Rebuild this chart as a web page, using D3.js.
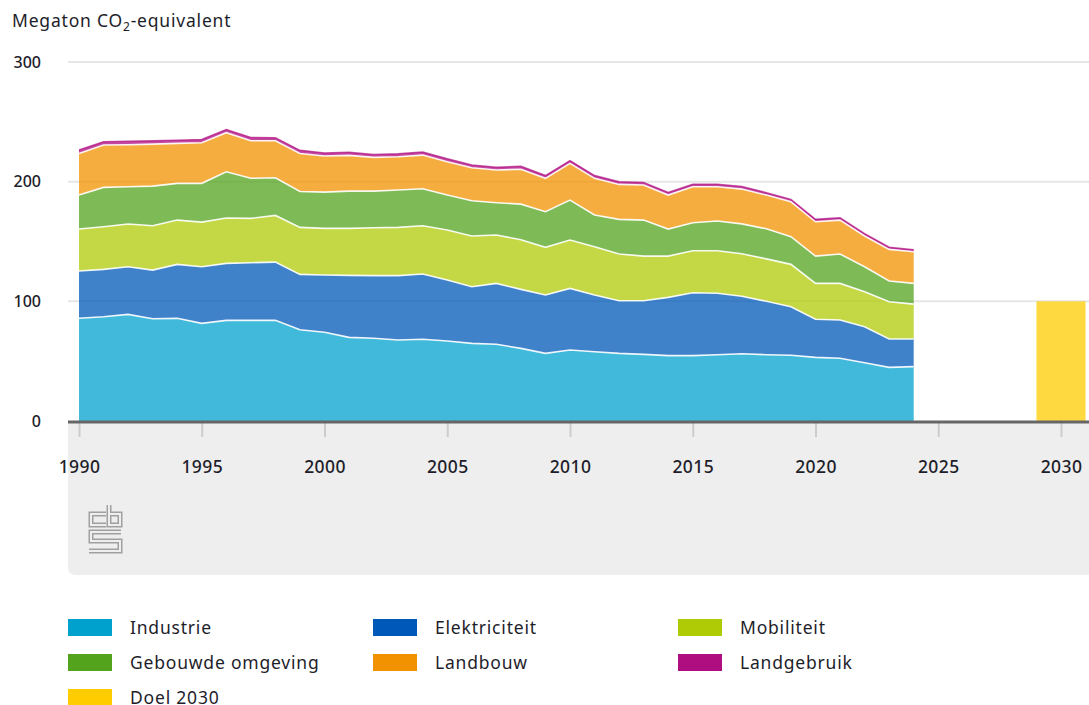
<!DOCTYPE html>
<html lang="nl">
<head>
<meta charset="UTF-8">
<title>Broeikasgasemissies per sector</title>
<script src="https://cdn.jsdelivr.net/npm/d3@7"></script>
<style>
  body { margin: 0; background: #fff; }
  svg text { font-family: "Noto Sans", "Open Sans", sans-serif; fill: #1e1e2a; }
</style>
</head>
<body>
<svg id="chart" width="1089" height="705"></svg>
<script>
// jaren en emissies per sector (Mt CO2-eq)
const years = d3.range(1990, 2025);
const industrie = [85.8, 87.1, 89.1, 85.5, 85.8, 81.6, 84.1, 84.1, 84.1, 76.3,
  74.1, 69.9, 69.1, 67.7, 68.3, 66.8, 64.9, 64.1, 60.7, 56.5,
  59.3, 57.9, 56.5, 55.7, 54.6, 54.6, 55.4, 56.2, 55.4, 54.9,
  53.2, 52.4, 48.7, 44.8, 45.4];
const elektriciteit = [39.5, 39.6, 39.8, 40.6, 45.1, 47.3, 47.6, 48.2, 48.7, 46.2,
  47.9, 51.8, 52.4, 53.8, 54.5, 51.0, 47.3, 50.9, 49.3, 48.8,
  51.5, 47.4, 44.0, 44.8, 48.7, 52.6, 51.3, 48.0, 44.6, 40.6,
  31.8, 32.0, 30.1, 23.7, 23.1];
const mobiliteit = [35.1, 35.6, 35.7, 37.1, 37.0, 37.3, 37.9, 37.0, 39.0, 39.3,
  39.0, 39.3, 40.0, 40.3, 40.4, 41.8, 42.4, 40.4, 41.5, 39.8,
  40.4, 40.3, 39.0, 37.3, 34.5, 35.1, 35.6, 35.5, 35.5, 35.4,
  30.0, 30.6, 29.2, 31.2, 29.2];
const gebouwd = [28.4, 32.9, 31.1, 33.1, 30.7, 32.4, 38.7, 33.5, 31.5, 30.0,
  30.3, 31.1, 30.6, 31.2, 30.9, 29.2, 29.4, 27.0, 29.7, 29.8,
  33.4, 26.5, 29.0, 30.1, 22.6, 23.4, 24.8, 25.0, 25.1, 23.1,
  22.8, 24.5, 20.9, 17.3, 17.3];
const landbouw = [34.8, 35.4, 35.2, 35.1, 33.4, 33.9, 32.6, 31.4, 30.9, 31.8,
  30.1, 29.9, 28.2, 27.8, 28.1, 27.8, 27.6, 27.3, 29.2, 27.9,
  30.7, 30.7, 29.2, 29.3, 28.4, 30.0, 28.6, 29.1, 28.2, 29.2,
  28.7, 28.4, 25.7, 26.4, 26.4];
const landgebruik = [2.8, 2.8, 2.8, 2.8, 2.7, 2.7, 2.7, 2.7, 2.6, 2.6,
  2.6, 2.6, 2.5, 2.5, 2.5, 2.5, 2.4, 2.4, 2.4, 2.3,
  2.3, 2.3, 2.2, 2.2, 2.2, 2.1, 2.1, 2.1, 2.0, 2.0,
  2.0, 1.9, 1.9, 1.8, 1.8];
const doelJaar = 2030;
const doelWaarde = 100;

const sectors = ["Industrie", "Elektriciteit", "Mobiliteit", "Gebouwde omgeving", "Landbouw", "Landgebruik"];
const seriesValues = [industrie, elektriciteit, mobiliteit, gebouwd, landbouw, landgebruik];
const colors = ["#00a1cd", "#0058b8", "#afcb05", "#53a31d", "#f39200", "#af0e80"];
const doelColor = "#ffcc00";
const yTicks = [0, 100, 200, 300];
const xTicks = [1990, 1995, 2000, 2005, 2010, 2015, 2020, 2025, 2030];

const svg = d3.select("#chart");
const W = 1089;

const x = d3.scaleLinear().domain([1990, 2030]).range([79, 1061]);
const y = d3.scaleLinear().domain([0, 300]).range([421, 62]);

// titel
const title = svg.append("text").attr("x", 12).attr("y", 27)
  .style("font-size", "17.5px").style("letter-spacing", "0.8px");
title.append("tspan").text("Megaton CO");
title.append("tspan").text("2").attr("dy", 4).style("font-size", "12px");
title.append("tspan").text("-equivalent").attr("dy", -4);

// grijs vlak onder de x-as
svg.append("path")
  .attr("d", `M68,422 H${W} V575 H76 Q68,575 68,567 Z`)
  .attr("fill", "#eeeeee");

// gridlijnen
svg.append("g").selectAll("line")
  .data(yTicks.filter(d => d > 0))
  .enter().append("line")
  .attr("x1", 68).attr("x2", W)
  .attr("y1", d => y(d)).attr("y2", d => y(d))
  .attr("stroke", "#e6e6e6").attr("stroke-width", 2);

// y-as labels
const yAxis = svg.append("g")
  .attr("transform", "translate(68,0)")
  .call(d3.axisLeft(y).tickValues(yTicks).tickSize(0).tickPadding(27));
yAxis.select(".domain").remove();
yAxis.selectAll("text")
  .style("font-size", "16px").style("font-family", "\"Noto Sans\", sans-serif")
  .style("font-weight", "500")
  .attr("fill", "#1e1e2a");

// gestapelde vlakken
const table = years.map((yr, i) => {
  const row = { year: yr };
  sectors.forEach((s, k) => row[s] = seriesValues[k][i]);
  return row;
});
const stacked = d3.stack().keys(sectors)(table);

const area = d3.area()
  .x(d => x(d.data.year))
  .y0(d => y(d[0]))
  .y1(d => y(d[1]));
const topLine = d3.line()
  .x(d => x(d.data.year))
  .y(d => y(d[1]));

svg.append("g").selectAll("path")
  .data(stacked)
  .enter().append("path")
  .attr("d", area)
  .attr("fill", (d, i) => colors[i])
  .attr("fill-opacity", 0.75);

svg.append("g").selectAll("path")
  .data(stacked.slice(0, 5))
  .enter().append("path")
  .attr("d", topLine)
  .attr("fill", "none")
  .attr("stroke", "#fff")
  .attr("stroke-opacity", 0.9)
  .attr("stroke-width", 1.6);

// landgebruik bovenrand
svg.append("path")
  .datum(stacked[5])
  .attr("d", topLine)
  .attr("fill", "none")
  .attr("stroke", colors[5])
  .attr("stroke-opacity", 0.7)
  .attr("stroke-width", 1.5);

// doel 2030
svg.append("rect")
  .attr("x", x(doelJaar - 1))
  .attr("width", x(doelJaar + 1) - x(doelJaar - 1))
  .attr("y", y(doelWaarde))
  .attr("height", y(0) - y(doelWaarde))
  .attr("fill", doelColor)
  .attr("fill-opacity", 0.75);

// x-as
const xAxis = svg.append("g")
  .attr("transform", "translate(0,423)")
  .call(d3.axisBottom(x).tickValues(xTicks).tickFormat(d3.format("d")).tickSize(14).tickPadding(24));
xAxis.select(".domain").remove();
xAxis.selectAll(".tick line").attr("stroke", "#cccccc").attr("stroke-width", 2);
xAxis.selectAll("text")
  .style("font-size", "17.5px").style("font-family", "\"Noto Sans\", sans-serif")
  .style("letter-spacing", "0.4px").style("font-weight", "500")
  .attr("fill", "#1e1e2a");

svg.append("line")
  .attr("x1", 68).attr("x2", W)
  .attr("y1", 422).attr("y2", 422)
  .attr("stroke", "#666666").attr("stroke-width", 3);

// cbs logo
const logo = svg.append("g").attr("fill", "none").attr("stroke-linejoin", "miter");
const logoPaths = [
  "M106,514 H91 V525 H106",
  "M109,505 V525 H120 V514 H109",
  "M121,532 H91 V541 H120 V551 H89"
];
logoPaths.forEach(p => {
  logo.append("path").attr("d", p).attr("stroke", "#a0a0a0").attr("stroke-width", 5);
  logo.append("path").attr("d", p).attr("stroke", "#eeeeee").attr("stroke-width", 2);
});

// legenda
const legendItems = sectors.map((s, i) => ({ name: s, color: colors[i] }))
  .concat([{ name: "Doel 2030", color: doelColor }]);
const colX = [68, 373, 678];
const legend = svg.append("g").selectAll("g")
  .data(legendItems)
  .enter().append("g")
  .attr("transform", (d, i) => `translate(${colX[i % 3]},${619 + Math.floor(i / 3) * 35})`);
legend.append("rect")
  .attr("width", 44).attr("height", 17)
  .attr("fill", d => d.color);
legend.append("text")
  .attr("x", 62).attr("y", 15)
  .style("font-size", "17.5px")
  .style("letter-spacing", "0.8px")
  .text(d => d.name);
</script>
</body>
</html>
